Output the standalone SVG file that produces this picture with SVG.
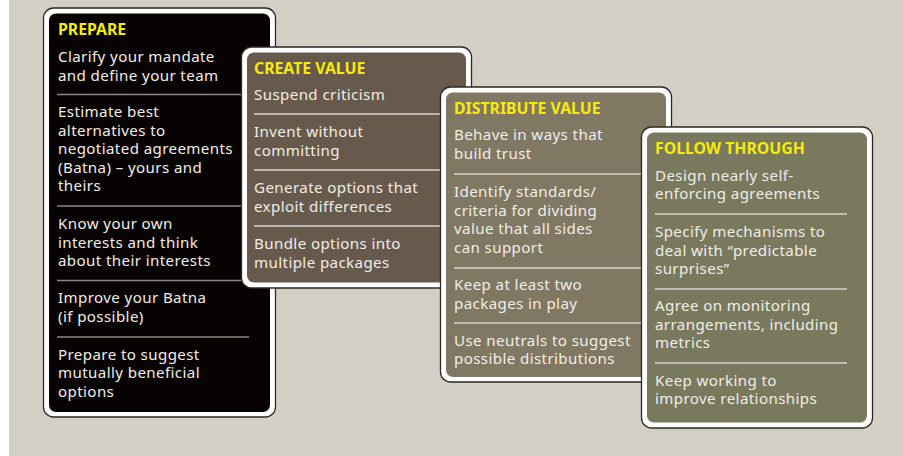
<svg xmlns="http://www.w3.org/2000/svg" width="903" height="456" viewBox="0 0 903 456">
<style>
.frame{fill:#ffffff;stroke:#2b2826;stroke-width:1.3}
.t{font-family:"Noto Sans","Open Sans",sans-serif;font-size:15.1px;letter-spacing:0.4px;fill:#f1ede6}
.h{font-family:"Noto Sans","Open Sans",sans-serif;font-size:15.8px;font-weight:bold;fill:#f6ea0c}
.d1{stroke:#8c8883;stroke-width:1.5}
.d{stroke:#d9d4cc;stroke-width:1.5}
</style>
<rect x="0" y="0" width="903" height="456" fill="#ffffff"/>
<rect x="9" y="0" width="894" height="456" fill="#d3cfc5"/>
<g id="prepare">
<rect class="frame" x="43.5" y="8" width="232" height="409" rx="10"/>
<rect x="49" y="13.5" width="221" height="398.5" rx="7" fill="#070303"/>
<text class="h" x="58" y="35">PREPARE</text>
<text class="t" x="58" y="62">Clarify your mandate</text>
<text class="t" x="58" y="80.5">and define your team</text>
<line class="d1" x1="57" y1="94.5" x2="249" y2="94.5"/>
<text class="t" x="58" y="117">Estimate best</text>
<text class="t" x="58" y="135.5">alternatives to</text>
<text class="t" x="58" y="154">negotiated agreements</text>
<text class="t" x="58" y="172.5">(Batna) – yours and</text>
<text class="t" x="58" y="191">theirs</text>
<line class="d1" x1="57" y1="206" x2="249" y2="206"/>
<text class="t" x="58" y="229">Know your own</text>
<text class="t" x="58" y="247.5">interests and think</text>
<text class="t" x="58" y="266">about their interests</text>
<line class="d1" x1="57" y1="280.5" x2="249" y2="280.5"/>
<text class="t" x="58" y="303">Improve your Batna</text>
<text class="t" x="58" y="321.5">(if possible)</text>
<line class="d1" x1="57" y1="337" x2="249" y2="337"/>
<text class="t" x="58" y="359.5">Prepare to suggest</text>
<text class="t" x="58" y="378">mutually beneficial</text>
<text class="t" x="58" y="396.5">options</text>
</g>
<g id="create-value">
<rect class="frame" x="241.5" y="47" width="230" height="241" rx="10"/>
<rect x="247" y="52.5" width="219" height="230" rx="7" fill="#675a4c"/>
<text class="h" x="254" y="74">CREATE VALUE</text>
<text class="t" x="254" y="99.5">Suspend criticism</text>
<line class="d" x1="254" y1="114" x2="452" y2="114"/>
<text class="t" x="254" y="137">Invent without</text>
<text class="t" x="254" y="155.5">committing</text>
<line class="d" x1="254" y1="170" x2="452" y2="170"/>
<text class="t" x="254" y="193">Generate options that</text>
<text class="t" x="254" y="211.5">exploit differences</text>
<line class="d" x1="254" y1="226" x2="452" y2="226"/>
<text class="t" x="254" y="249">Bundle options into</text>
<text class="t" x="254" y="267.5">multiple packages</text>
</g>
<g id="distribute-value">
<rect class="frame" x="440.5" y="87" width="231" height="295" rx="10"/>
<rect x="446" y="92.5" width="220" height="284.5" rx="7" fill="#807862"/>
<text class="h" x="454" y="114">DISTRIBUTE VALUE</text>
<text class="t" x="454" y="140">Behave in ways that</text>
<text class="t" x="454" y="158.5">build trust</text>
<line class="d" x1="454" y1="174" x2="652" y2="174"/>
<text class="t" x="454" y="197">Identify standards/</text>
<text class="t" x="454" y="215.5">criteria for dividing</text>
<text class="t" x="454" y="234">value that all sides</text>
<text class="t" x="454" y="252.5">can support</text>
<line class="d" x1="454" y1="268" x2="652" y2="268"/>
<text class="t" x="454" y="290">Keep at least two</text>
<text class="t" x="454" y="308.5">packages in play</text>
<line class="d" x1="454" y1="323" x2="652" y2="323"/>
<text class="t" x="454" y="345.5">Use neutrals to suggest</text>
<text class="t" x="454" y="364">possible distributions</text>
</g>
<g id="follow-through">
<rect class="frame" x="641.5" y="127" width="231" height="301" rx="10"/>
<rect x="647" y="132.5" width="220" height="290" rx="7" fill="#79795e"/>
<text class="h" x="655" y="154">FOLLOW THROUGH</text>
<text class="t" x="655" y="180.5">Design nearly self-</text>
<text class="t" x="655" y="199">enforcing agreements</text>
<line class="d" x1="655" y1="214" x2="847" y2="214"/>
<text class="t" x="655" y="237">Specify mechanisms to</text>
<text class="t" x="655" y="255.5">deal with “predictable</text>
<text class="t" x="655" y="274">surprises”</text>
<line class="d" x1="655" y1="289" x2="847" y2="289"/>
<text class="t" x="655" y="311">Agree on monitoring</text>
<text class="t" x="655" y="329.5">arrangements, including</text>
<text class="t" x="655" y="348">metrics</text>
<line class="d" x1="655" y1="363" x2="847" y2="363"/>
<text class="t" x="655" y="385.5">Keep working to</text>
<text class="t" x="655" y="404">improve relationships</text>
</g>
<g id="connectors"></g>
</svg>
